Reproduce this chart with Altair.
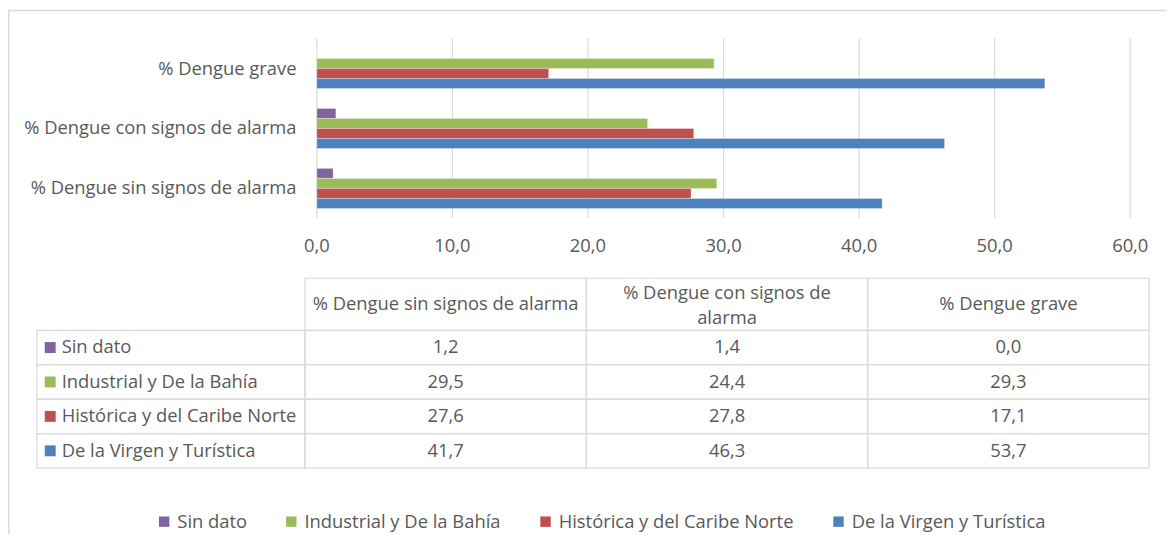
import altair as alt
import pandas as pd

# ---------------- data ----------------
categories = ["% Dengue sin signos de alarma", "% Dengue con signos de alarma", "% Dengue grave"]
header_lines = [["% Dengue sin signos de alarma"], ["% Dengue con signos de", "alarma"], ["% Dengue grave"]]
series = ["Sin dato", "Industrial y De la Bahía", "Histórica y del Caribe Norte", "De la Virgen y Turística"]
colors = ["#8064A2", "#9BBB59", "#C0504D", "#4F81BD"]
sin_dato = [1.2, 1.4, 0.0]
industrial = [29.5, 24.4, 29.3]
historica = [27.6, 27.8, 17.1]
virgen = [41.7, 46.3, 53.7]
ticks = [0, 10, 20, 30, 40, 50, 60]

values = [sin_dato, industrial, historica, virgen]
rows = []
for s, vals in zip(series, values):
    for c, v in zip(categories, vals):
        rows.append({"series": s, "category": c, "value": v})
df = pd.DataFrame(rows)
tick_df = pd.DataFrame({"tick": ticks})
cat_df = pd.DataFrame({"category": categories})
ser_df = pd.DataFrame({"series": series})
header_data = alt.Data(values=[{"category": c, "lines": l, "n": len(l)} for c, l in zip(categories, header_lines)])

# ---------------- style / layout ----------------
W, H = 1167, 528
FONT = "Open Sans"
FS = 18.5
TXT = "#595959"
GRID = "#d9d9d9"
LH = 25

bar_x = alt.Scale(domain=[0, 60], range=[311, 1130], nice=False, zero=False)
bar_y = alt.Scale(domain=categories[::-1], range=[29, 210], paddingInner=0.332, paddingOuter=0.166)
off_scale = alt.Scale(domain=series, paddingInner=0, paddingOuter=0)
col_scale = alt.Scale(domain=categories, range=[299, 1149], paddingInner=0, paddingOuter=0)
row_scale = alt.Scale(domain=series, range=[322.7, 461.4], paddingInner=0, paddingOuter=0)
color = alt.Color("series:N", scale=alt.Scale(domain=series, range=colors), title=None)
fmt = "replace(format(datum.value, '.1f'), '.', ',')"

one = alt.Data(values=[{}])

border_top = alt.Chart(one).mark_rule(color=GRID, strokeWidth=1.5).encode(
    x=alt.value(0), x2=alt.value(W), y=alt.value(0.75))
border_left = alt.Chart(one).mark_rule(color=GRID, strokeWidth=1.5).encode(
    x=alt.value(0.75), y=alt.value(0), y2=alt.value(H))

grid = alt.Chart(tick_df).mark_rule(color=GRID, strokeWidth=1.2).encode(
    x=alt.X("tick:Q", scale=bar_x, axis=None), y=alt.value(29), y2=alt.value(210))

bars = alt.Chart(df).mark_bar(stroke="white", strokeWidth=0.6, strokeOpacity=0.5).encode(
    x=alt.X("value:Q", scale=bar_x, axis=None),
    y=alt.Y("category:N", scale=bar_y, axis=None),
    yOffset=alt.YOffset("series:N", scale=off_scale),
    color=color,
)

tick_labels = alt.Chart(tick_df).transform_calculate(
    lab="replace(format(datum.tick, '.1f'), '.', ',')"
).mark_text(font=FONT, fontSize=FS, color=TXT, baseline="middle", align="center").encode(
    x=alt.X("tick:Q", scale=bar_x, axis=None), y=alt.value(237.5), text="lab:N")

cat_labels = alt.Chart(cat_df).mark_text(font=FONT, fontSize=FS, color=TXT, align="right", baseline="middle").encode(
    x=alt.value(290.5), y=alt.Y("category:N", scale=bar_y, axis=None), text="category:N")

# ---------------- table ----------------
cells = alt.Chart(df).mark_rect(fillOpacity=0, stroke=GRID, strokeWidth=1.2).encode(
    x=alt.X("category:N", scale=col_scale, axis=None),
    y=alt.Y("series:N", scale=row_scale, axis=None))

cell_text = alt.Chart(df).transform_calculate(lab=fmt).mark_text(
    font=FONT, fontSize=FS, color=TXT, baseline="middle", align="center").encode(
    x=alt.X("category:N", scale=col_scale, axis=None),
    y=alt.Y("series:N", scale=row_scale, axis=None),
    text="lab:N")

head_rect = alt.Chart(cat_df).mark_rect(fillOpacity=0, stroke=GRID, strokeWidth=1.2).encode(
    x=alt.X("category:N", scale=col_scale, axis=None), y=alt.value(270.3), y2=alt.value(322.7))

head_text1 = alt.Chart(header_data).transform_filter("datum.n == 1").mark_text(
    font=FONT, fontSize=FS, color=TXT, baseline="middle", align="center", lineHeight=LH).encode(
    x=alt.X("category:N", type="nominal", scale=col_scale, axis=None), y=alt.value(296.2),
    text=alt.Text("lines:N"))

head_text2 = alt.Chart(header_data).transform_filter("datum.n == 2").mark_text(
    font=FONT, fontSize=FS, color=TXT, baseline="middle", align="center", lineHeight=LH).encode(
    x=alt.X("category:N", type="nominal", scale=col_scale, axis=None), y=alt.value(285.2),
    text=alt.Text("lines:N"))

row_rect = alt.Chart(ser_df).mark_rect(fillOpacity=0, stroke=GRID, strokeWidth=1.2).encode(
    x=alt.value(29), x2=alt.value(299), y=alt.Y("series:N", scale=row_scale, axis=None))

row_sym = alt.Chart(ser_df).mark_square(size=121, opacity=1).encode(
    x=alt.value(42.5), y=alt.Y("series:N", scale=row_scale, axis=None), color=color)

row_text = alt.Chart(ser_df).mark_text(font=FONT, fontSize=FS, color=TXT, align="left", baseline="middle").encode(
    x=alt.value(54), y=alt.Y("series:N", scale=row_scale, axis=None), text="series:N")

chart = alt.layer(
    border_top, border_left, grid, bars, tick_labels, cat_labels,
    cells, cell_text, head_rect, head_text1, head_text2, row_rect, row_sym, row_text,
).resolve_scale(x="independent", y="independent").properties(
    width=W, height=H, padding=0, autosize=alt.AutoSizeParams(type="none"),
).configure_view(strokeWidth=0).configure_legend(
    orient="none", legendX=148, legendY=506, direction="horizontal",
    symbolType="square", symbolSize=110, symbolStrokeWidth=0,
    labelFont=FONT, labelFontSize=FS, labelColor=TXT, labelOffset=4, labelLimit=500,
    columnPadding=35, padding=0, columns=4,
)

chart.save("out.html", embed_options={"renderer": "svg", "actions": False})
